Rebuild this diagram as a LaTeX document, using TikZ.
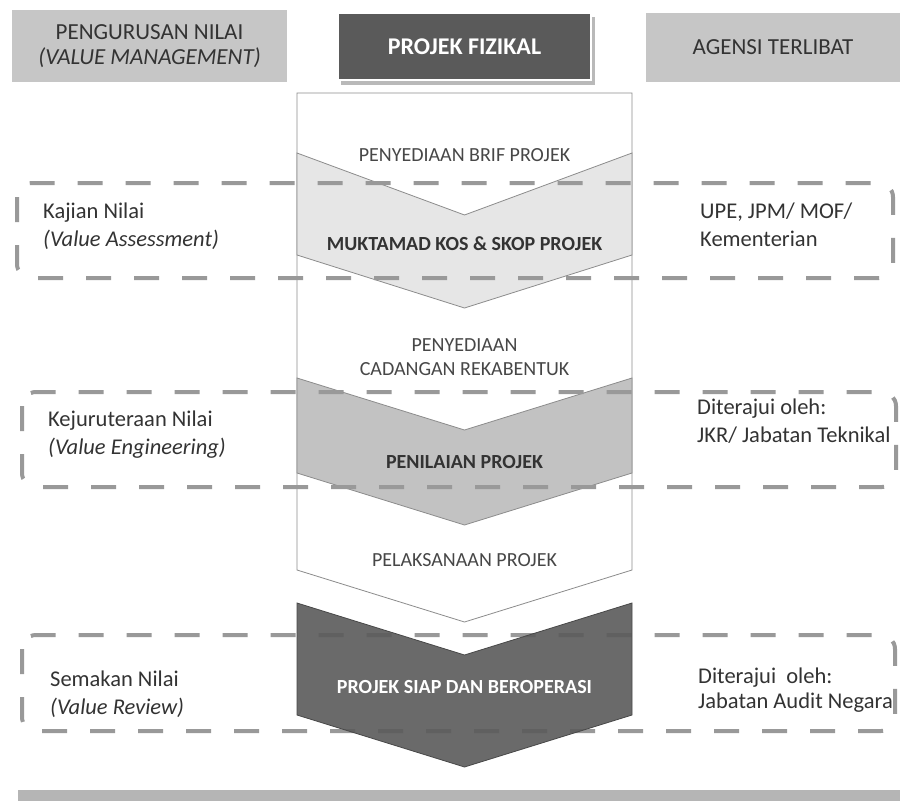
\documentclass[tikz,border=0pt]{standalone}
\usepackage{fontspec}
\setmainfont{Carlito}
\definecolor{hdrgray}{HTML}{C6C6C6}
\definecolor{darkfill}{HTML}{5A5A5A}
\definecolor{txtgray}{HTML}{333333}
\definecolor{chevtxt}{HTML}{474747}
\definecolor{dashgray}{HTML}{999999}
\definecolor{lightchev}{HTML}{E6E6E6}
\definecolor{midchev}{HTML}{C2C2C2}
\definecolor{outl}{HTML}{8C8C8C}
\definecolor{barfill}{HTML}{B5B5B5}
\begin{document}
\begin{tikzpicture}[x=1pt,y=-1pt,
  hdr/.style={fill=hdrgray, draw=none, inner sep=0pt, text=txtgray, align=center,
    font=\fontsize{23}{25}\selectfont},
  lbl/.style={anchor=west, inner sep=0pt, text=txtgray, align=left,
    font=\fontsize{22.5}{28}\selectfont},
  chevtext/.style={inner sep=0pt, text=chevtxt, align=center,
    font=\fontsize{20}{24}\selectfont},
  chevbold/.style={inner sep=0pt, text=txtgray, align=center,
    font=\bfseries\fontsize{20}{24}\selectfont},
  chevshape/.style={draw=outl, line width=0.8pt},
  dbox/.style={draw=dashgray, line width=4pt, dash pattern=on 25pt off 23pt,
    rounded corners=14pt}]
\useasboundingbox (0,0) rectangle (900,801);
\fill[white] (0,0) rectangle (900,801);

% header boxes
\node[hdr, minimum width=275pt, minimum height=72pt] (vm) at (149.5,46)
  {PENGURUSAN NILAI\\\textit{(VALUE MANAGEMENT)}};
\fill[gray!55] (341,17) rectangle (595,85);
\node[fill=darkfill, draw=white, line width=1.5pt, minimum width=253pt, minimum height=67pt,
  inner sep=0pt, text=white, font=\bfseries\fontsize{24}{26}\selectfont] (pf) at (464.5,46.5)
  {PROJEK FIZIKAL};
\node[hdr, minimum width=254pt, minimum height=69pt] (ag) at (773,47.5)
  {AGENSI TERLIBAT};

% column
\path[chevshape, fill=white] (297,93) -- (632,93) -- (632,570) -- (464.5,622) -- (297,570) -- cycle;
% chevron 1 (light)
\path[chevshape, fill=lightchev] (297,153) -- (464.5,215) -- (632,153) -- (632,255)
  -- (464.5,308) -- (297,255) -- cycle;
% chevron 2 (medium)
\path[chevshape, fill=midchev] (297,378) -- (464.5,430) -- (632,378) -- (632,473)
  -- (464.5,525) -- (297,473) -- cycle;

% dashed boxes
\draw[dbox] (17,183) rectangle (893,278);
\draw[dbox] (22,392) rectangle (896,487);
\draw[dbox] (22,635) rectangle (895,731);

% chevron 3 (dark)
\path[draw=darkfill!80!black, line width=0.8pt, fill=darkfill, fill opacity=0.9]
  (297,603) -- (464.5,655) -- (632,603) -- (632,715) -- (464.5,767) -- (297,715) -- cycle;

% bottom bar
\fill[barfill] (18,790) rectangle (900,801);

% chevron texts
\node[chevtext] (brif) at (464.5,155) {PENYEDIAAN BRIF PROJEK};
\node[chevbold] (muk) at (464.5,244) {MUKTAMAD KOS \& SKOP PROJEK};
\node[chevtext] (cad) at (464.5,357) {PENYEDIAAN\\CADANGAN REKABENTUK};
\node[chevbold] (pen) at (464.5,462) {PENILAIAN PROJEK};
\node[chevtext] (pel) at (464.5,560) {PELAKSANAAN PROJEK};
\node[chevbold, text=white] (siap) at (464.5,687) {PROJEK SIAP DAN BEROPERASI};

% left labels
\node[lbl] (kaj) at (43,226) {Kajian Nilai\\\textit{(Value Assessment)}};
\node[lbl] (kej) at (48,435) {Kejuruteraan Nilai\\\textit{(Value Engineering)}};
\node[lbl] (sem) at (50,694) {Semakan Nilai\\\textit{(Value Review)}};

% right labels
\node[lbl] (upe) at (700,225) {UPE, JPM/ MOF/\\Kementerian};
\node[lbl] (jkr) at (697,421) {Diterajui oleh:\\JKR/ Jabatan Teknikal};
\node[lbl, font=\fontsize{22.5}{25.5}\selectfont] (jan) at (698,690) {Diterajui~~oleh:\\Jabatan Audit Negara};
\end{tikzpicture}
\end{document}
